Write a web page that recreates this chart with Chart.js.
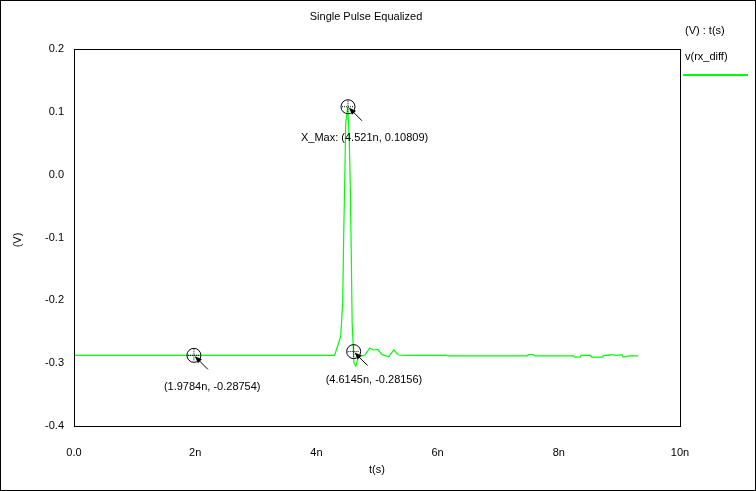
<!DOCTYPE html>
<html><head><meta charset="utf-8">
<script src="https://cdn.jsdelivr.net/npm/chart.js@4/dist/chart.umd.min.js"></script>
<style>html,body{margin:0;padding:0;background:#fff}#c{display:block}</style>
</head><body>
<canvas id="c" width="756" height="491"></canvas>
<script>
const timeNs = [0,0.5,1,2,3,4,4.3,4.40,4.434,4.45,4.467,4.484,4.517,4.543,4.56,4.576,4.59,4.62,4.653,4.69,4.80,4.88,4.94,5.01,5.08,5.19,5.28,5.35,5.49,6.15,6.17,7.48,7.50,7.58,7.60,8.24,8.26,8.35,8.37,8.52,8.54,8.72,8.74,8.82,8.84,8.96,9.04,9.06,9.17,9.31];
const vRx = [-0.2875,-0.2875,-0.2875,-0.2875,-0.2875,-0.2875,-0.2875,-0.258,-0.204,-0.099,-0.013,0.082,0.108,0.055,-0.024,-0.130,-0.236,-0.300,-0.305,-0.290,-0.287,-0.276,-0.279,-0.278,-0.286,-0.290,-0.279,-0.287,-0.2875,-0.2875,-0.2885,-0.2885,-0.2865,-0.2865,-0.2885,-0.2885,-0.2905,-0.2905,-0.2875,-0.2875,-0.2905,-0.2905,-0.2875,-0.2875,-0.2865,-0.2875,-0.2865,-0.2905,-0.2885,-0.2885];
const xTicks = [0,2,4,6,8,10];
const xTickLabels = ['0.0','2n','4n','6n','8n','10n'];
const markerX = [1.9784,4.521,4.6145];
const markerY = [-0.28754,0.10809,-0.28156];
const markerLabels = ['(1.9784n, -0.28754)','X_Max: (4.521n, 0.10809)','(4.6145n, -0.28156)'];
const labelOffsets = [[-30,32],[-47,31],[-28,28]];
const FONT = '11px "Liberation Sans", Arial, sans-serif';

const deco = {
  id:'deco',
  afterDraw(ch){
    const c=ch.ctx, a=ch.chartArea, xs=ch.scales.x, ys=ch.scales.y;
    c.save();
    c.strokeStyle='#000'; c.lineWidth=1;
    c.strokeRect(0.5,0.5,755,490);
    c.strokeRect(a.left+0.5,a.top+0.5,a.right-a.left,a.bottom-a.top);
    c.font=FONT; c.fillStyle='#000';
    c.textAlign='center'; c.textBaseline='middle';
    c.fillText('Single Pulse Equalized',366,17);
    c.fillText('t(s)',377,470);
    c.save(); c.translate(18,240); c.rotate(-Math.PI/2); c.fillText('(V)',0,0); c.restore();
    c.textAlign='left';
    c.fillText('(V) : t(s)',685,31);
    c.fillText('v(rx_diff)',685,57);
    c.strokeStyle='#00ff00'; c.lineWidth=2; c.beginPath(); c.moveTo(683,75); c.lineTo(748,75); c.stroke();
    for(let i=0;i<markerX.length;i++){
      const px=xs.getPixelForValue(markerX[i]), py=ys.getPixelForValue(markerY[i]);
      c.strokeStyle='#000'; c.lineWidth=1;
      c.beginPath(); c.arc(px,py,7,0,Math.PI*2); c.stroke();
      c.setLineDash([1,1]);
      c.beginPath(); c.moveTo(px-6,py); c.lineTo(px+6,py); c.moveTo(px,py-6); c.lineTo(px,py+6); c.stroke();
      c.setLineDash([]);
      c.beginPath(); c.moveTo(px+2,py+2); c.lineTo(px+14,py+14); c.stroke();
      c.fillStyle='#000';
      c.beginPath(); c.moveTo(px+1,py+1); c.lineTo(px+8,py+4); c.lineTo(px+4,py+8); c.closePath(); c.fill();
      c.textAlign='left';
      c.fillText(markerLabels[i],px+labelOffsets[i][0],py+labelOffsets[i][1]);
    }
    c.restore();
  }
};

new Chart(document.getElementById('c'),{
  type:'line',
  data:{datasets:[{data:timeNs.map((t,i)=>({x:t,y:vRx[i]})),borderColor:'#00ff00',borderWidth:1.2,pointRadius:0,tension:0}]},
  options:{
    responsive:false,animation:false,
    layout:{padding:{top:49,right:76,left:0,bottom:0}},
    plugins:{legend:{display:false},tooltip:{enabled:false}},
    scales:{
      x:{type:'linear',min:0,max:10,
        afterFit(s){s.height=65;},
        afterBuildTicks(s){s.ticks=xTicks.map(v=>({value:v}));},
        grid:{display:false,drawTicks:true,tickLength:4,tickColor:'#000'},
        border:{display:false},
        ticks:{color:'#000',font:{family:'"Liberation Sans", Arial',size:11},maxRotation:0,padding:16,
          callback:(v)=>xTickLabels[xTicks.indexOf(v)]}},
      y:{type:'linear',min:-0.4,max:0.2,
        afterFit(s){s.width=74;},
        afterBuildTicks(s){s.ticks=[-0.4,-0.3,-0.2,-0.1,0,0.1,0.2].map(v=>({value:v}));},
        grid:{display:false,drawTicks:true,tickLength:4,tickColor:'#000'},
        border:{display:false},
        ticks:{color:'#000',font:{family:'"Liberation Sans", Arial',size:11},padding:6,
          callback:(v)=>Number(v).toFixed(1)}}
    }
  },
  plugins:[deco]
});
</script>
</body></html>
